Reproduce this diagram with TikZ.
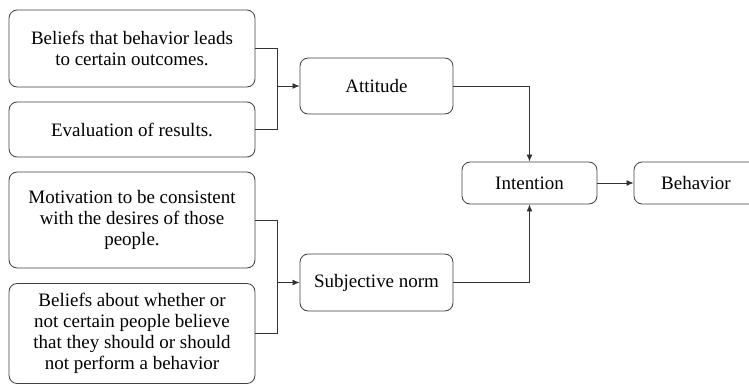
\documentclass[tikz,border=0pt]{standalone}
\usepackage{fontspec}
\setmainfont{Liberation Serif}
\usetikzlibrary{arrows.meta}
\begin{document}
\begin{tikzpicture}[x=0.03cm,y=-0.03cm,
  box/.style={draw=black!75, line width=0.7pt, rounded corners=7pt, align=center, inner sep=0pt,
    font=\fontsize{16.2}{18}\selectfont},
  conn/.style={draw=black!80, line width=0.7pt},
  arr/.style={conn,-{Latex[length=6pt,width=5pt]}}]
\useasboundingbox (0,0) rectangle (749,385);
\begin{scope}
\clip (0,0) rectangle (749,385);
\node[box, minimum width=7.38cm, minimum height=2.31cm] (a) at (132,48.5) {Beliefs that behavior leads\\to certain outcomes.};
\node[box, minimum width=7.38cm, minimum height=1.65cm] (b) at (132,129.5) {Evaluation of results.};
\node[box, minimum width=7.38cm, minimum height=2.88cm] (c) at (132,220) {Motivation to be consistent\\with the desires of those\\people.};
\node[box, minimum width=7.38cm, minimum height=3.0cm] (d) at (132,333.5) {Beliefs about whether or\\not certain people believe\\that they should or should\\not perform a behavior};
\node[box, minimum width=4.59cm, minimum height=1.68cm] (att) at (376.5,86) {Attitude};
\node[box, minimum width=4.59cm, minimum height=1.71cm] (sn) at (376.5,282.5) {Subjective norm};
\node[box, minimum width=4.05cm, minimum height=1.26cm] (int) at (529.5,183) {Intention};
\node[box, minimum width=3.72cm, minimum height=1.26cm] (beh) at (696,183) {Behavior};
\end{scope}
\coordinate (j1) at (277,86);
\coordinate (j2) at (277,282.5);
\draw[conn] (a.east) -| (j1);
\draw[conn] (b.east) -| (j1);
\draw[arr] (j1) -- (att.west);
\draw[conn] (c.east) -| (j2);
\draw[conn] (d.east) -| (j2);
\draw[arr] (j2) -- (sn.west);
\draw[arr] (att.east) -| (int.north);
\draw[arr] (sn.east) -| (int.south);
\draw[arr] (int.east) -- (beh.west);
\end{tikzpicture}
\end{document}
